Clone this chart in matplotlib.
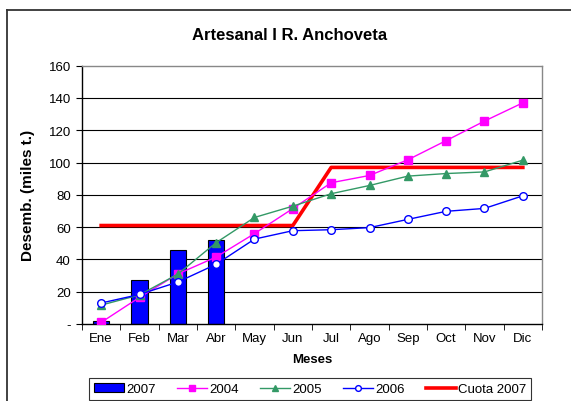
import matplotlib
matplotlib.use("Agg")
import matplotlib.pyplot as plt
from matplotlib.lines import Line2D
import numpy as np

plt.rcParams['font.family'] = ['Liberation Sans', 'DejaVu Sans']

meses = ["Ene", "Feb", "Mar", "Abr", "May", "Jun", "Jul", "Ago", "Sep", "Oct", "Nov", "Dic"]
d2007 = [2, 27, 46, 52]
d2004 = [1, 16.5, 31, 41.5, 56, 71.5, 87.5, 92, 101.7, 113.6, 125.7, 137]
d2005 = [11.7, 18, 30.9, 50.4, 66, 73, 80.7, 85.8, 91.6, 93.2, 94.2, 101.5]
d2006 = [13, 18.3, 26, 37, 52.6, 57.8, 58.4, 59.7, 64.8, 69.8, 71.6, 79.4]
cuota = [61, 61, 61, 61, 61, 61, 97, 97, 97, 97, 97, 97]
yticks = [0, 20, 40, 60, 80, 100, 120, 140, 160]
ytick_labels = ["-", "20", "40", "60", "80", "100", "120", "140", "160"]

W, H = 571, 402
fig = plt.figure(figsize=(W / 100, H / 100), dpi=100)
ax = fig.add_axes([82 / W, 1 - 325 / H, (542 - 82) / W, (325 - 66.7) / H])

x = np.arange(len(meses))

bars = ax.bar(x[:len(d2007)], d2007, width=0.42, color="#0000FF", edgecolor="black",
              linewidth=0.8, label="2007", zorder=2)
l04, = ax.plot(x, d2004, color="#FF00FF", lw=1, marker="s", ms=5.5, mfc="#FF00FF",
               mec="#FF00FF", label="2004", zorder=4)
l05, = ax.plot(x, d2005, color="#339966", lw=1, marker="^", ms=6, mfc="#339966",
               mec="#339966", label="2005", zorder=4)
l06, = ax.plot(x, d2006, color="#0000FF", lw=1, marker="o", ms=5.5, mfc="white",
               mec="#0000FF", mew=1, label="2006", zorder=4)
lc, = ax.plot(x, cuota, color="#FF0000", lw=2.6, label="Cuota 2007", zorder=3)

ax.set_xlim(-0.5, 11.5)
ax.set_ylim(0, 160)
ax.set_yticks(yticks)
ax.set_yticklabels(ytick_labels, fontsize=9.5)
ax.set_xticks(x)
ax.set_xticklabels(meses, fontsize=9.5)
ax.set_xticks(np.arange(-0.5, 12, 1), minor=True)
ax.tick_params(axis="x", which="major", length=0, pad=6)
ax.tick_params(axis="x", which="minor", length=4, direction="out", color="black")
ax.tick_params(axis="y", length=4, direction="out", color="black", pad=4)

for v in yticks[1:-1]:
    ax.axhline(v, color="black", lw=0.8, zorder=1)
ax.spines["left"].set_color("black")
ax.spines["bottom"].set_color("black")
ax.spines["top"].set_color("#888888")
ax.spines["right"].set_color("#888888")
for s in ax.spines.values():
    s.set_linewidth(1)

ax.set_xlabel("Meses", fontsize=9.5, fontweight="bold", labelpad=6)
ax.set_ylabel("Desemb. (miles t.)", fontsize=11, fontweight="bold", labelpad=10)
fig.text(290 / W, 1 - 36 / H, "Artesanal I R. Anchoveta", fontsize=12,
         fontweight="bold", ha="center", va="center")

leg = fig.legend([bars, l04, l05, l06, lc], ["2007", "2004", "2005", "2006", "Cuota 2007"],
                 loc="center", bbox_to_anchor=(310 / W, 1 - 390 / H), ncol=5,
                 fontsize=9.5, frameon=True, fancybox=False, edgecolor="black",
                 handlelength=2.3, handleheight=0.6, handletextpad=0.15,
                 columnspacing=1.6, borderpad=0.35, markerscale=0.75)
leg.get_frame().set_linewidth(0.8)

# chart area border (only top/left visible in the crop)
fig.add_artist(Line2D([7 / W, 7 / W], [0, 1 - 11 / H], transform=fig.transFigure,
                      color="#333333", lw=1.3))
fig.add_artist(Line2D([7 / W, 1], [1 - 11 / H, 1 - 11 / H], transform=fig.transFigure,
                      color="#333333", lw=1.3))

fig.savefig("out.png", dpi=100)
